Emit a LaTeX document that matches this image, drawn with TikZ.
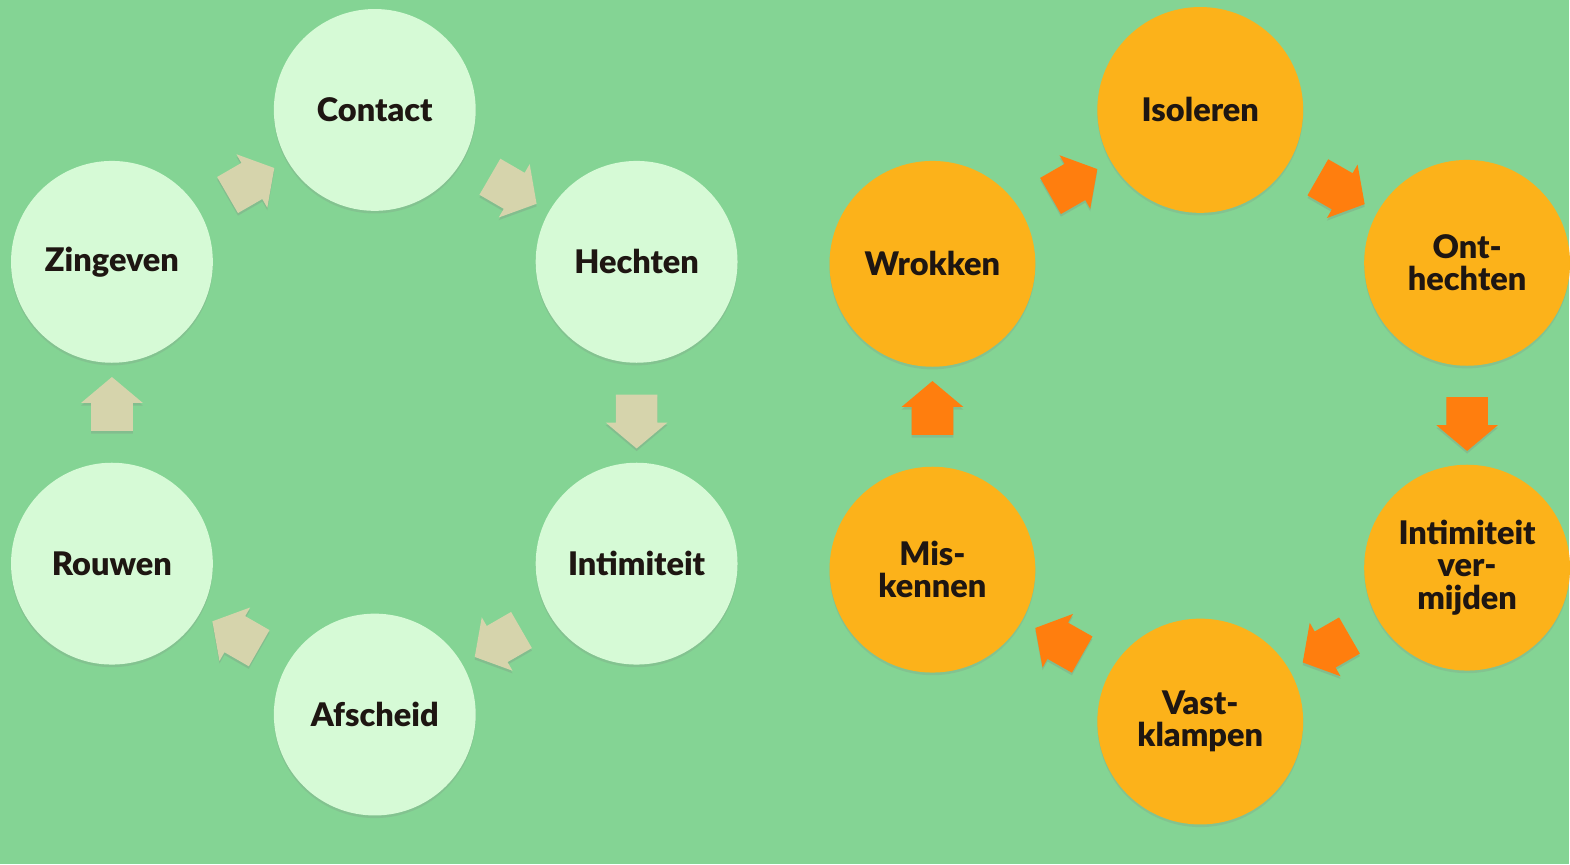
\documentclass[tikz,border=0pt]{standalone}
\usepackage{fontspec}
\setmainfont{Lato}[BoldFont={Lato Black}]
\usetikzlibrary{calc,shapes.arrows,shadows}

\definecolor{bggreen}{RGB}{132,212,148}
\definecolor{mint}{RGB}{214,250,214}
\definecolor{khaki}{RGB}{214,212,172}
\definecolor{amber}{RGB}{252,178,26}
\definecolor{tangerine}{RGB}{255,126,14}
\definecolor{inkdark}{RGB}{30,22,18}

\begin{document}
\begin{tikzpicture}[
    x=0.02cm, y=-0.02cm,
    circ/.style={
      circle,
      inner sep=0pt,
      align=center,
      text=inkdark,
      font=\bfseries\fontsize{18.5}{18.5}\selectfont,
      drop shadow={opacity=0.2, shadow xshift=0pt, shadow yshift=-1.5pt}
    },
    lcirc/.style={circ, fill=mint, minimum size=4.04cm},
    rcirc/.style={circ, fill=amber, minimum size=4.12cm},
    blk/.style={
      single arrow,
      inner xsep=0pt,
      inner ysep=0.41cm,
      minimum height=1.08cm,
      single arrow head extend=0.2cm,
      single arrow tip angle=100,
      drop shadow={opacity=0.25, shadow xshift=0pt, shadow yshift=-1.5pt}
    },
    larrow/.style={blk, fill=khaki},
    rarrow/.style={blk, fill=tangerine}
    ]
    \fill[bggreen] (0,0) rectangle (1570,865);

    % left ring
    \node[lcirc] (l1) at (375,110) {Contact};
    \node[lcirc] (l2) at (637,262) {Hechten};
    \node[lcirc] (l3) at (637,564) {Intimiteit};
    \node[lcirc] (l4) at (375,715) {Afscheid};
    \node[lcirc] (l5) at (112,564) {Rouwen};
    \node[lcirc] (l6) at (112,262) {Zingeven};

    % right ring
    \node[rcirc] (r1) at (1201,110) {Isoleren};
    \node[rcirc] (r2) at (1468,263) {Ont-\\hechten};
    \node[rcirc] (r3) at (1468,568) {Intimiteit\\ver-\\mijden};
    \node[rcirc] (r4) at (1201,722) {Vast-\\klampen};
    \node[rcirc] (r5) at (933,570) {Mis-\\kennen};
    \node[rcirc] (r6) at (933,264) {Wrokken};

    \foreach \a/\b in {l6/l1,l1/l2,l2/l3,l3/l4,l4/l5,l5/l6}
      \path let \p1=($(\b)-(\a)$), \n1={atan2(\y1,\x1)} in
        node[larrow, rotate=\n1] at ($(\a)!0.5!(\b)$) {};
    \foreach \a/\b in {r6/r1,r1/r2,r2/r3,r3/r4,r4/r5,r5/r6}
      \path let \p1=($(\b)-(\a)$), \n1={atan2(\y1,\x1)} in
        node[rarrow, rotate=\n1] at ($(\a)!0.5!(\b)$) {};
\end{tikzpicture}
\end{document}
